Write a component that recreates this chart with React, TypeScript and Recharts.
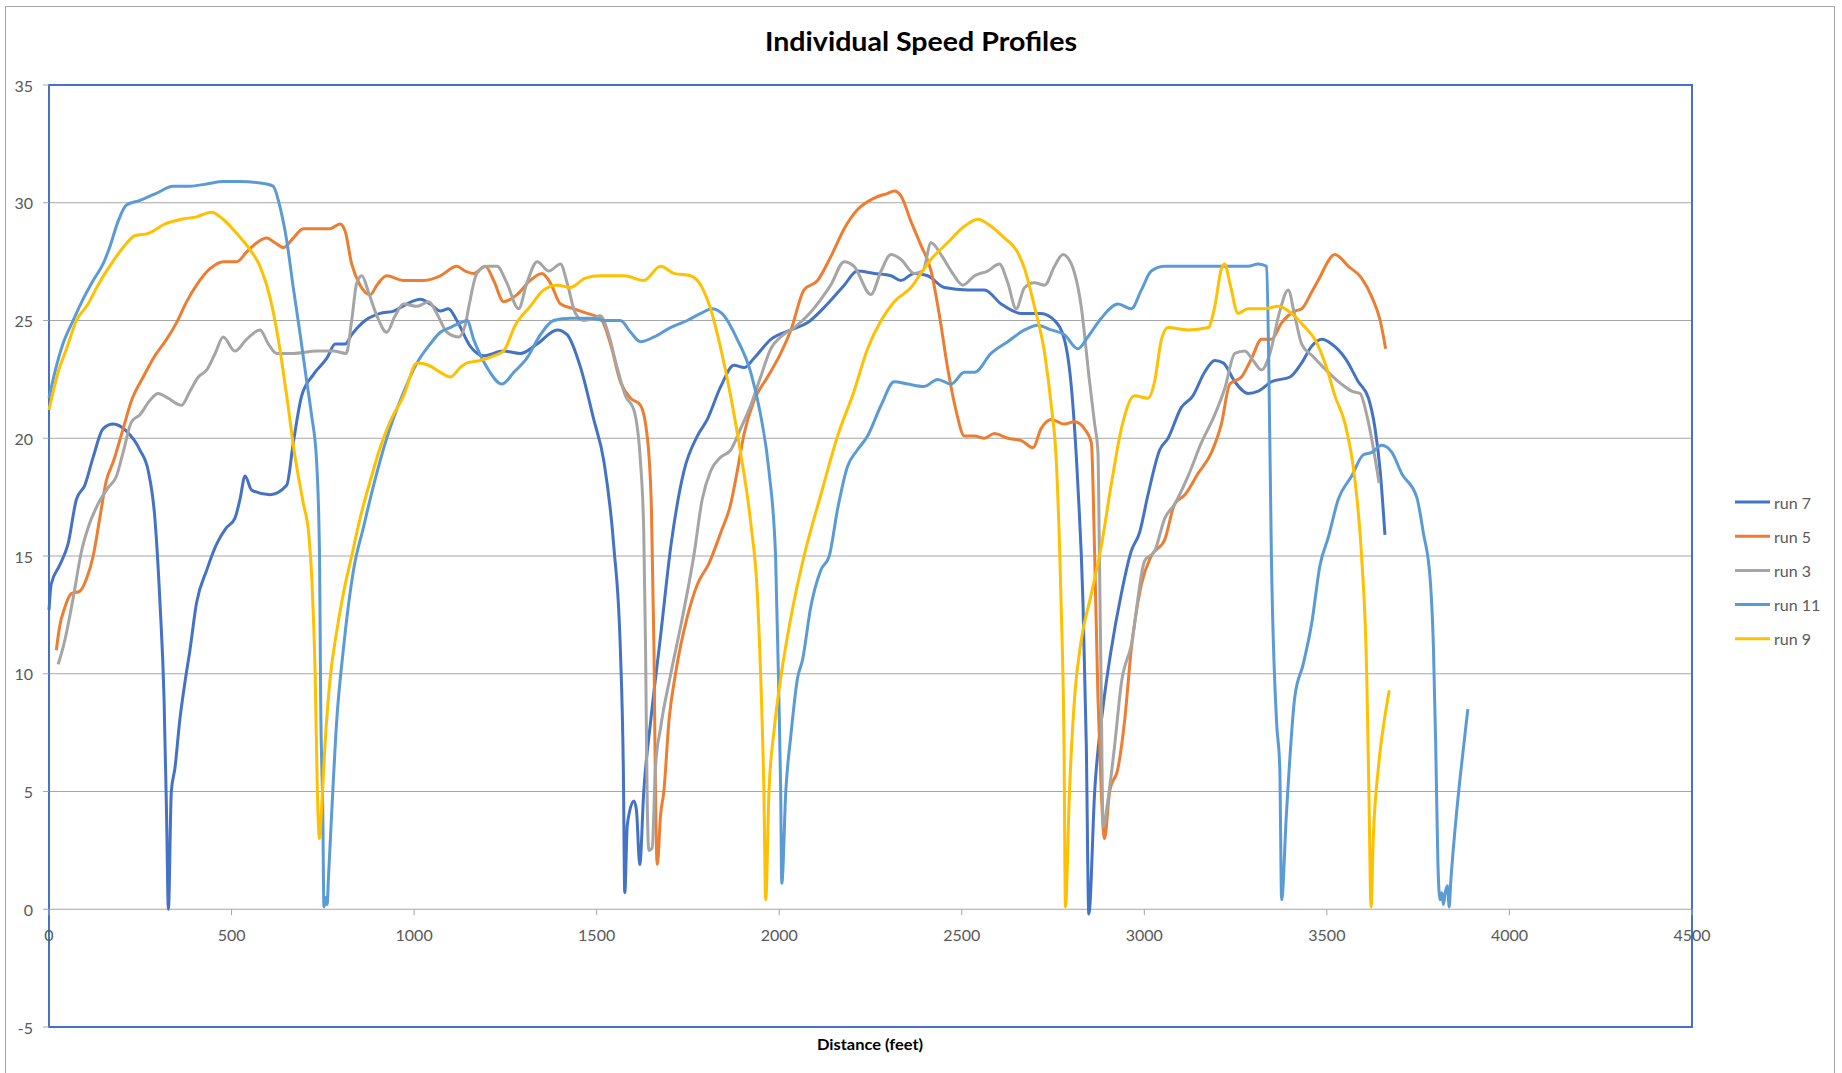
import { LineChart, Line, XAxis, YAxis, CartesianGrid, ReferenceArea } from 'recharts';

// distance (feet) / speed pairs, one pair of arrays per run
const run7Dist = [0, 6, 29, 52, 75, 98, 121, 148, 176, 212, 249, 272, 290, 304, 315, 322, 327, 335, 345, 358, 372, 386, 404, 432, 459, 486, 509, 523, 537, 555, 605, 651, 669, 692, 724, 761, 784, 811, 829, 866, 907, 944, 980, 1017, 1044, 1072, 1094, 1117, 1154, 1190, 1245, 1291, 1337, 1392, 1419, 1456, 1492, 1520, 1547, 1565, 1573, 1577, 1584, 1602, 1609, 1618, 1629, 1648, 1675, 1703, 1739, 1776, 1803, 1840, 1876, 1904, 1931, 1977, 2032, 2077, 2132, 2178, 2214, 2260, 2306, 2333, 2370, 2407, 2452, 2516, 2562, 2608, 2663, 2717, 2754, 2781, 2800, 2818, 2832, 2841, 2848, 2864, 2887, 2909, 2937, 2964, 2987, 3010, 3042, 3065, 3101, 3133, 3165, 3193, 3216, 3248, 3284, 3312, 3348, 3399, 3431, 3458, 3486, 3513, 3550, 3586, 3614, 3632, 3646, 3659];
const run7Speed = [12.7, 13.8, 14.6, 15.5, 17.4, 18.0, 19.2, 20.4, 20.6, 20.3, 19.5, 18.6, 16.6, 13.0, 9.0, 4.0, 0, 5.0, 6.0, 8.0, 9.6, 11.0, 13.0, 14.4, 15.5, 16.2, 16.6, 17.4, 18.4, 17.8, 17.6, 18.0, 19.8, 21.8, 22.7, 23.4, 24.0, 24.0, 24.4, 25.0, 25.3, 25.4, 25.7, 25.9, 25.7, 25.4, 25.5, 25.0, 23.9, 23.5, 23.7, 23.6, 24.0, 24.6, 24.4, 23.0, 20.8, 19.0, 15.4, 11.0, 6.0, 0.7, 3.6, 4.6, 4.2, 1.9, 5.0, 8.0, 11.6, 15.4, 18.6, 20.1, 20.8, 22.2, 23.1, 23.0, 23.4, 24.2, 24.6, 24.9, 25.7, 26.5, 27.1, 27.0, 26.9, 26.7, 27.0, 26.9, 26.4, 26.3, 26.3, 25.7, 25.3, 25.3, 25.0, 24.2, 22.2, 18.0, 13.0, 7.0, -0.2, 5.0, 8.6, 11.0, 13.4, 15.2, 16.0, 17.6, 19.5, 20.0, 21.3, 21.8, 22.8, 23.3, 23.2, 22.4, 21.9, 22.0, 22.4, 22.6, 23.2, 23.9, 24.2, 24.0, 23.4, 22.4, 21.7, 20.4, 18.6, 15.9];

const run5Dist = [20, 29, 43, 61, 84, 102, 121, 139, 157, 176, 203, 226, 258, 290, 322, 349, 377, 404, 441, 478, 514, 541, 569, 596, 619, 642, 669, 697, 733, 770, 797, 811, 829, 852, 880, 898, 925, 971, 1026, 1072, 1117, 1140, 1163, 1195, 1218, 1245, 1282, 1318, 1350, 1373, 1401, 1437, 1474, 1510, 1538, 1565, 1593, 1620, 1639, 1650, 1657, 1661, 1666, 1675, 1684, 1698, 1716, 1748, 1776, 1808, 1840, 1867, 1885, 1904, 1931, 1968, 2004, 2032, 2068, 2105, 2141, 2178, 2214, 2260, 2297, 2315, 2333, 2361, 2388, 2416, 2439, 2461, 2484, 2507, 2535, 2562, 2589, 2626, 2663, 2695, 2717, 2745, 2781, 2809, 2836, 2855, 2864, 2873, 2882, 2891, 2905, 2928, 2946, 2964, 2992, 3019, 3056, 3083, 3111, 3147, 3184, 3211, 3234, 3266, 3294, 3321, 3348, 3376, 3412, 3431, 3458, 3476, 3522, 3559, 3595, 3623, 3646, 3661];
const run5Speed = [11.0, 12.0, 12.8, 13.4, 13.5, 14.0, 15.0, 16.6, 18.2, 19.0, 20.4, 21.6, 22.6, 23.5, 24.2, 24.9, 25.8, 26.5, 27.2, 27.5, 27.5, 27.9, 28.3, 28.5, 28.3, 28.1, 28.5, 28.9, 28.9, 28.9, 29.1, 28.8, 27.4, 26.5, 26.1, 26.5, 26.9, 26.7, 26.7, 26.9, 27.3, 27.1, 27.0, 27.3, 26.7, 25.8, 26.1, 26.7, 27.0, 26.6, 25.7, 25.5, 25.3, 25.1, 24.0, 22.4, 21.7, 21.4, 20.0, 17.0, 11.0, 5.0, 1.9, 4.0, 5.0, 8.0, 10.0, 12.4, 13.8, 14.7, 16.0, 17.2, 18.6, 20.2, 21.6, 22.6, 23.6, 24.6, 26.3, 26.7, 27.7, 28.9, 29.7, 30.2, 30.4, 30.5, 30.3, 29.2, 28.2, 27.1, 25.2, 23.0, 21.2, 20.1, 20.1, 20.0, 20.2, 20.0, 19.9, 19.6, 20.4, 20.8, 20.6, 20.7, 20.4, 19.8, 15.0, 9.0, 5.0, 3.0, 5.0, 6.0, 8.0, 11.0, 13.8, 15.0, 15.7, 17.2, 17.6, 18.5, 19.4, 20.6, 22.3, 22.6, 23.4, 24.2, 24.2, 24.9, 25.4, 25.5, 26.2, 26.7, 27.8, 27.3, 26.8, 26.0, 25.0, 23.8];

const run3Dist = [25, 43, 66, 89, 107, 134, 162, 185, 203, 226, 249, 276, 299, 326, 363, 386, 409, 432, 455, 477, 509, 541, 578, 601, 624, 669, 733, 779, 814, 829, 843, 857, 875, 898, 925, 948, 971, 1008, 1040, 1062, 1090, 1122, 1140, 1150, 1172, 1200, 1227, 1254, 1286, 1309, 1337, 1369, 1401, 1419, 1442, 1465, 1492, 1510, 1533, 1556, 1579, 1602, 1620, 1629, 1634, 1638, 1643, 1652, 1661, 1675, 1703, 1735, 1766, 1789, 1812, 1840, 1867, 1894, 1922, 1949, 1977, 2004, 2041, 2077, 2114, 2141, 2178, 2205, 2251, 2279, 2306, 2333, 2370, 2393, 2416, 2443, 2471, 2503, 2535, 2571, 2603, 2626, 2649, 2672, 2699, 2727, 2754, 2777, 2800, 2827, 2850, 2864, 2873, 2877, 2882, 2887, 2900, 2919, 2937, 2964, 3001, 3028, 3056, 3083, 3120, 3156, 3193, 3220, 3248, 3275, 3298, 3321, 3344, 3371, 3394, 3412, 3431, 3460, 3504, 3540, 3568, 3591, 3609, 3627, 3643];
const run3Speed = [10.4, 11.4, 13.2, 15.2, 16.2, 17.2, 17.9, 18.4, 19.4, 20.7, 21.0, 21.6, 21.9, 21.7, 21.4, 22.0, 22.6, 22.9, 23.6, 24.3, 23.7, 24.2, 24.6, 24.0, 23.6, 23.6, 23.7, 23.7, 23.6, 25.0, 26.6, 26.9, 26.2, 25.2, 24.5, 25.2, 25.7, 25.6, 25.8, 25.3, 24.5, 24.3, 24.8, 25.6, 27.0, 27.3, 27.3, 26.6, 25.5, 26.6, 27.5, 27.1, 27.4, 26.6, 25.3, 25.0, 25.1, 25.2, 24.4, 23.0, 21.8, 21.2, 19.0, 16.0, 11.0, 5.0, 2.5, 2.6, 6.0, 7.7, 10.0, 12.4, 15.0, 17.4, 18.6, 19.2, 19.5, 20.4, 21.4, 22.6, 23.8, 24.3, 24.7, 25.2, 25.9, 26.5, 27.5, 27.3, 26.1, 27.1, 27.8, 27.6, 27.0, 27.1, 28.3, 27.8, 27.1, 26.5, 26.9, 27.1, 27.4, 26.6, 25.5, 26.4, 26.6, 26.5, 27.3, 27.8, 27.4, 25.6, 22.4, 20.6, 19.4, 15.0, 9.0, 3.5, 4.6, 7.0, 9.6, 11.2, 14.8, 15.2, 16.6, 17.2, 18.4, 19.8, 21.0, 22.1, 23.6, 23.7, 23.3, 22.9, 23.6, 25.4, 26.3, 25.2, 24.0, 23.5, 22.8, 22.3, 22.0, 21.9, 21.0, 19.6, 18.1];

const run11Dist = [0, 16, 38, 66, 93, 121, 148, 166, 189, 212, 249, 294, 340, 386, 432, 478, 523, 596, 614, 633, 651, 669, 688, 706, 719, 733, 741, 744, 750, 753, 759, 762, 765, 774, 788, 806, 834, 861, 889, 925, 962, 1008, 1044, 1072, 1099, 1126, 1145, 1163, 1200, 1241, 1273, 1309, 1346, 1382, 1428, 1483, 1520, 1565, 1593, 1620, 1657, 1702, 1748, 1785, 1817, 1849, 1885, 1922, 1949, 1972, 1990, 1999, 2004, 2007, 2018, 2032, 2050, 2064, 2086, 2114, 2137, 2160, 2187, 2214, 2242, 2279, 2315, 2352, 2397, 2434, 2471, 2507, 2535, 2580, 2626, 2672, 2708, 2745, 2781, 2818, 2845, 2882, 2928, 2964, 2992, 3019, 3056, 3147, 3239, 3284, 3312, 3335, 3341, 3348, 3362, 3371, 3376, 3389, 3412, 3435, 3458, 3481, 3504, 3531, 3568, 3600, 3623, 3650, 3678, 3705, 3746, 3764, 3783, 3792, 3798, 3804, 3810, 3815, 3819, 3824, 3830, 3835, 3839, 3851, 3865, 3886];
const run11Speed = [21.7, 22.8, 24.0, 25.0, 25.9, 26.7, 27.4, 28.1, 29.2, 29.9, 30.1, 30.4, 30.7, 30.7, 30.8, 30.9, 30.9, 30.8, 30.7, 29.8, 28.4, 26.4, 24.4, 22.4, 21.0, 19.0, 15.0, 9.0, 4.0, 0.1, 0.5, 0.2, 1.2, 4.0, 8.0, 11.0, 14.4, 16.2, 18.0, 20.0, 21.6, 23.2, 24.0, 24.5, 24.7, 24.9, 25.0, 24.2, 23.0, 22.3, 22.8, 23.4, 24.4, 25.0, 25.1, 25.1, 25.0, 25.0, 24.5, 24.1, 24.3, 24.7, 25.0, 25.3, 25.5, 25.2, 24.2, 22.8, 21.0, 18.6, 15.0, 9.0, 5.0, 1.1, 5.0, 7.4, 9.8, 10.6, 12.8, 14.4, 15.0, 17.0, 18.8, 19.5, 20.1, 21.4, 22.4, 22.3, 22.2, 22.5, 22.3, 22.8, 22.8, 23.6, 24.1, 24.6, 24.8, 24.6, 24.4, 23.8, 24.3, 25.1, 25.7, 25.5, 26.3, 27.1, 27.3, 27.3, 27.3, 27.3, 27.4, 27.3, 23.0, 15.0, 8.0, 6.0, 0.4, 4.0, 9.0, 10.4, 12.1, 14.6, 15.8, 17.4, 18.4, 19.3, 19.4, 19.7, 19.4, 18.5, 17.5, 16.0, 14.0, 11.0, 7.0, 2.0, 0.4, 0.7, 0.2, 0.7, 1.0, 0.1, 1.1, 3.4, 5.6, 8.5];

const run9Dist = [0, 25, 48, 75, 107, 134, 166, 203, 235, 272, 318, 363, 404, 445, 477, 514, 551, 578, 605, 628, 651, 674, 697, 711, 720, 729, 735, 741, 747, 756, 770, 788, 806, 829, 852, 880, 907, 934, 971, 1008, 1040, 1072, 1099, 1126, 1145, 1181, 1218, 1245, 1277, 1318, 1355, 1392, 1428, 1469, 1510, 1575, 1629, 1675, 1712, 1757, 1785, 1812, 1840, 1867, 1894, 1922, 1940, 1949, 1958, 1963, 1972, 1986, 2004, 2032, 2068, 2114, 2160, 2205, 2242, 2279, 2315, 2361, 2388, 2416, 2461, 2507, 2544, 2580, 2617, 2649, 2672, 2699, 2727, 2745, 2759, 2772, 2780, 2784, 2795, 2809, 2827, 2855, 2882, 2909, 2937, 2973, 3010, 3028, 3047, 3065, 3120, 3175, 3193, 3211, 3220, 3234, 3257, 3284, 3330, 3367, 3403, 3435, 3467, 3499, 3522, 3550, 3577, 3595, 3609, 3615, 3621, 3627, 3641, 3657, 3671];
const run9Speed = [21.2, 22.8, 23.8, 25.0, 25.7, 26.5, 27.3, 28.1, 28.6, 28.7, 29.1, 29.3, 29.4, 29.6, 29.3, 28.7, 28.0, 27.3, 26.0, 24.2, 21.8, 19.2, 17.2, 16.0, 14.0, 10.0, 5.0, 3.0, 4.4, 7.0, 9.8, 11.8, 13.4, 15.0, 16.6, 18.2, 19.6, 20.7, 21.8, 23.2, 23.1, 22.8, 22.6, 23.0, 23.2, 23.3, 23.5, 23.7, 24.8, 25.6, 26.3, 26.5, 26.4, 26.8, 26.9, 26.9, 26.7, 27.3, 27.0, 26.9, 26.5, 25.5, 23.8, 21.8, 19.4, 16.4, 13.4, 10.0, 5.0, 0.4, 5.0, 7.6, 9.8, 12.4, 15.0, 17.6, 20.1, 22.0, 23.8, 25.0, 25.8, 26.4, 27.0, 27.6, 28.3, 29.0, 29.3, 29.0, 28.5, 28.0, 27.2, 25.6, 23.6, 21.4, 19.0, 13.0, 7.0, 0.1, 5.0, 9.0, 11.4, 13.4, 15.4, 18.0, 20.4, 21.8, 21.7, 22.4, 24.2, 24.7, 24.6, 24.7, 25.6, 27.2, 27.4, 26.6, 25.3, 25.5, 25.5, 25.6, 25.3, 24.8, 24.2, 23.0, 21.8, 20.6, 18.2, 15.0, 10.0, 5.0, 0.1, 3.0, 6.0, 8.0, 9.3];

const seriesNames = ['run 7', 'run 5', 'run 3', 'run 11', 'run 9'];
const seriesColors = ['#4472C4', '#ED7D31', '#A5A5A5', '#5B9BD5', '#FFC000'];
const seriesDist = [run7Dist, run5Dist, run3Dist, run11Dist, run9Dist];
const seriesSpeed = [run7Speed, run5Speed, run3Speed, run11Speed, run9Speed];

const xTicks = [0, 500, 1000, 1500, 2000, 2500, 3000, 3500, 4000, 4500];
const yTicks = [-5, 0, 5, 10, 15, 20, 25, 30, 35];

const W = 1842;
const H = 1073;
const PLOT_LEFT = 49;
const PLOT_TOP = 85;
const PLOT_RIGHT = 1692;
const PLOT_BOTTOM = 1027;
const ZERO_Y = PLOT_TOP + ((PLOT_BOTTOM - PLOT_TOP) * 35) / 40;

const FONT = 'Lato, "Open Sans", sans-serif';
const TEXT = '#595959';
const GRID = '#A6A6A6';

const series = seriesNames.map((name, i) => ({
  name,
  color: seriesColors[i],
  data: seriesDist[i].map((x, j) => ({ x, y: seriesSpeed[i][j] })),
}));

// Excel puts the category labels under the y=0 line, not under the plot area
function XTick({ x, payload }: any) {
  return (
    <g>
      <line x1={x} x2={x} y1={ZERO_Y} y2={ZERO_Y + 6} stroke={GRID} />
      <text x={x} y={ZERO_Y + 25} textAnchor="middle" dominantBaseline="central" fontSize={16} fontFamily={FONT} fill={TEXT}>
        {payload.value}
      </text>
    </g>
  );
}

function YTick({ x, y, payload }: any) {
  return (
    <g>
      <line x1={PLOT_LEFT - 6} x2={PLOT_LEFT} y1={y} y2={y} stroke={GRID} />
      <text x={PLOT_LEFT - 16} y={y} textAnchor="end" dominantBaseline="central" fontSize={16} fontFamily={FONT} fill={TEXT}>
        {payload.value}
      </text>
    </g>
  );
}

export default function App() {
  return (
    <div style={{ position: 'relative', width: W, height: H, background: '#fff', overflow: 'hidden' }}>
      <style>{'body { margin: 0; }'}</style>
      <LineChart
        width={W}
        height={H}
        margin={{ top: PLOT_TOP, left: 0, right: W - PLOT_RIGHT, bottom: 0 }}
      >
        <CartesianGrid vertical={false} stroke={GRID} />
        <XAxis
          type="number"
          dataKey="x"
          domain={[0, 4500]}
          ticks={xTicks}
          height={H - PLOT_BOTTOM}
          axisLine={false}
          tickLine={false}
          tick={<XTick />}
          interval={0}
        />
        <YAxis
          type="number"
          domain={[-5, 35]}
          ticks={yTicks}
          width={PLOT_LEFT}
          axisLine={false}
          tickLine={false}
          interval={0}
          tick={<YTick />}
        />
        <ReferenceArea x1={0} x2={4500} y1={-5} y2={35} fill="none" stroke="#4472C4" strokeWidth={2} />
        {series.map((s) => (
          <Line
            key={s.name}
            data={s.data}
            dataKey="y"
            name={s.name}
            type="monotone"
            stroke={s.color}
            strokeWidth={3}
            dot={false}
            activeDot={false}
            isAnimationActive={false}
          />
        ))}
      </LineChart>
      <svg width={W} height={H} style={{ position: 'absolute', left: 0, top: 0, pointerEvents: 'none' }}>
        <rect x={5.5} y={6.5} width={1829} height={1080} fill="none" stroke={GRID} />
        <text
          x={921}
          y={41}
          textAnchor="middle"
          dominantBaseline="central"
          fontSize={26}
          fontWeight="bold"
          fontFamily={FONT}
          fill="#000"
          textLength={312}
          lengthAdjust="spacingAndGlyphs"
        >
          Individual Speed Profiles
        </text>
        <text
          x={870}
          y={1043}
          textAnchor="middle"
          dominantBaseline="central"
          fontSize={16}
          fontWeight="bold"
          fontFamily={FONT}
          fill="#000"
          textLength={106}
          lengthAdjust="spacingAndGlyphs"
        >
          Distance (feet)
        </text>
        {series.map((s, i) => (
          <g key={s.name}>
            <line x1={1735} x2={1770} y1={502 + i * 34.2} y2={502 + i * 34.2} stroke={s.color} strokeWidth={3} />
            <text x={1774} y={502 + i * 34.2} dominantBaseline="central" fontSize={16} fontFamily={FONT} fill={TEXT}>
              {s.name}
            </text>
          </g>
        ))}
      </svg>
    </div>
  );
}
